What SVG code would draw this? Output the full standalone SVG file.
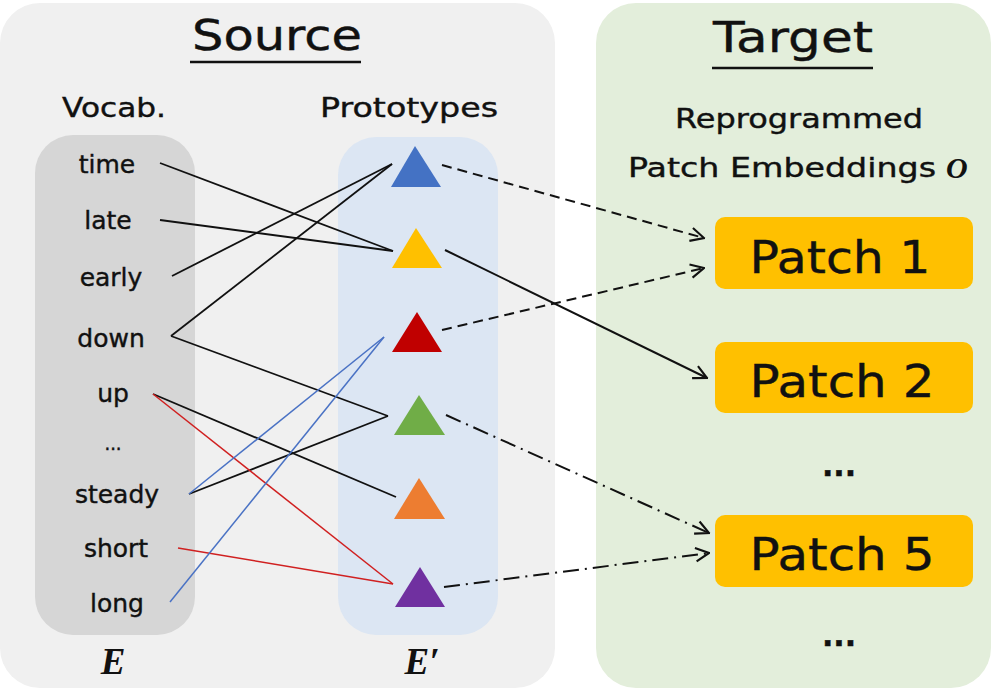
<svg xmlns="http://www.w3.org/2000/svg" width="993" height="694" viewBox="0 0 993 694">
<defs>
<style>
.t{font-family:"Comic Sans MS","DejaVu Sans","Liberation Sans",sans-serif;fill:#111;stroke:#111;stroke-width:0.4}
.m{font-family:"Liberation Serif","DejaVu Serif",serif;font-weight:bold;font-style:italic;fill:#111}
.ln{stroke:#111;stroke-width:1.8;fill:none}
.bl{stroke:#4a72c4;stroke-width:1.5;fill:none}
.rd{stroke:#d02020;stroke-width:1.5;fill:none}
.ar{stroke:#111;stroke-width:2;fill:none;marker-end:url(#oa)}
.dash{stroke-dasharray:10 6}
.dd{stroke-dasharray:16 6 2 6}
.patch{fill:#ffc000}
</style>
<marker id="oa" viewBox="0 0 12 12" refX="11" refY="6" markerWidth="16" markerHeight="16" markerUnits="userSpaceOnUse" orient="auto">
<path d="M1,1 L11,6 L1,11" fill="none" stroke="#111" stroke-width="1.6"/>
</marker>
</defs>
<rect width="993" height="694" fill="#ffffff"/>
<g id="source-panel">
<rect x="0" y="3" width="555" height="685" rx="40" fill="#f0f0f0"/>
<text class="t" x="277" y="50" font-size="42" text-anchor="middle" textLength="170" lengthAdjust="spacingAndGlyphs">Source</text>
<line x1="190" y1="62" x2="361" y2="62" stroke="#111" stroke-width="2.5"/>
<text class="t" x="114" y="117" font-size="27" text-anchor="middle" textLength="104" lengthAdjust="spacingAndGlyphs">Vocab.</text>
<text class="t" x="409" y="117" font-size="27" text-anchor="middle" textLength="178" lengthAdjust="spacingAndGlyphs">Prototypes</text>
</g>
<g id="target-panel">
<rect x="596" y="3" width="395" height="685" rx="40" fill="#e3eedb"/>
<text class="t" x="793" y="52" font-size="42" text-anchor="middle" textLength="160" lengthAdjust="spacingAndGlyphs">Target</text>
<line x1="712" y1="68" x2="873" y2="68" stroke="#111" stroke-width="2.5"/>
<text class="t" x="799" y="128" font-size="26" text-anchor="middle" textLength="248" lengthAdjust="spacingAndGlyphs">Reprogrammed</text>
<text class="t" x="628" y="177" font-size="26" textLength="308" lengthAdjust="spacingAndGlyphs">Patch Embeddings</text>
<text class="m" x="946" y="178" font-size="30">O</text>
</g>
<g id="vocab">
<rect x="35" y="135" width="160" height="500" rx="38" fill="#d6d6d6"/>
<g class="t" font-size="25" text-anchor="middle">
<text x="107" y="173">time</text>
<text x="108" y="229">late</text>
<text x="111" y="286">early</text>
<text x="111" y="347">down</text>
<text x="113" y="402">up</text>
<text x="113" y="450" font-size="18">...</text>
<text x="117" y="503">steady</text>
<text x="116" y="557">short</text>
<text x="117" y="612">long</text>
</g>
<text class="m" x="113" y="674" font-size="37" text-anchor="middle">E</text>
</g>
<g id="prototypes">
<rect x="338" y="137" width="160" height="498" rx="38" fill="#dce6f3"/>
<polygon points="415,146 391,187 441,187" fill="#4472c4"/>
<polygon points="416,228 392,268 442,268" fill="#ffc000"/>
<polygon points="417,312 392,352 442,352" fill="#c00000"/>
<polygon points="419,395 394,435 445,435" fill="#70ad47"/>
<polygon points="419,478 394,519 445,519" fill="#ed7d31"/>
<polygon points="420,567 395,607 445,607" fill="#7030a0"/>
<text class="m" x="422" y="674" font-size="37" text-anchor="middle">E′</text>
</g>
<g id="patch1"><rect class="patch" x="715" y="217" width="258" height="72" rx="10"/><text class="t" x="840" y="273" font-size="44" text-anchor="middle" textLength="181" lengthAdjust="spacingAndGlyphs">Patch 1</text></g>
<g id="patch2"><rect class="patch" x="715" y="342" width="258" height="71" rx="10"/><text class="t" x="842" y="397" font-size="44" text-anchor="middle" textLength="185" lengthAdjust="spacingAndGlyphs">Patch 2</text></g>
<g id="dots1"><text class="t" x="839" y="476" font-size="30" font-weight="bold" text-anchor="middle">...</text></g>
<g id="patch5"><rect class="patch" x="715" y="515" width="258" height="72" rx="10"/><text class="t" x="842" y="570" font-size="44" text-anchor="middle" textLength="185" lengthAdjust="spacingAndGlyphs">Patch 5</text></g>
<g id="dots2"><text class="t" x="839" y="646" font-size="30" font-weight="bold" text-anchor="middle">...</text></g>
<g id="connectors">
<line class="ln" x1="160" y1="163" x2="393" y2="251"/>
<line class="ln" x1="160" y1="220" x2="393" y2="251"/>
<line class="ln" x1="172" y1="276" x2="392" y2="164"/>
<line class="ln" x1="171" y1="336" x2="392" y2="164"/>
<line class="ln" x1="171" y1="336" x2="388" y2="416"/>
<line class="ln" x1="153" y1="394" x2="396" y2="497"/>
<line class="ln" x1="189" y1="494" x2="388" y2="416"/>
<line class="rd" x1="153" y1="394" x2="393" y2="584"/>
<line class="rd" x1="178" y1="548" x2="393" y2="584"/>
<line class="bl" x1="189" y1="494" x2="384" y2="337"/>
<line class="bl" x1="170" y1="602" x2="384" y2="337"/>
<line class="ar dash" x1="442" y1="165" x2="704" y2="238"/>
<line class="ar dash" x1="442" y1="330" x2="704" y2="268"/>
<line class="ar" x1="445" y1="250" x2="707" y2="378"/>
<line class="ar dd" x1="446" y1="415" x2="709" y2="533"/>
<line class="ar dd" x1="444" y1="587" x2="709" y2="553"/>
</g>
</svg>
